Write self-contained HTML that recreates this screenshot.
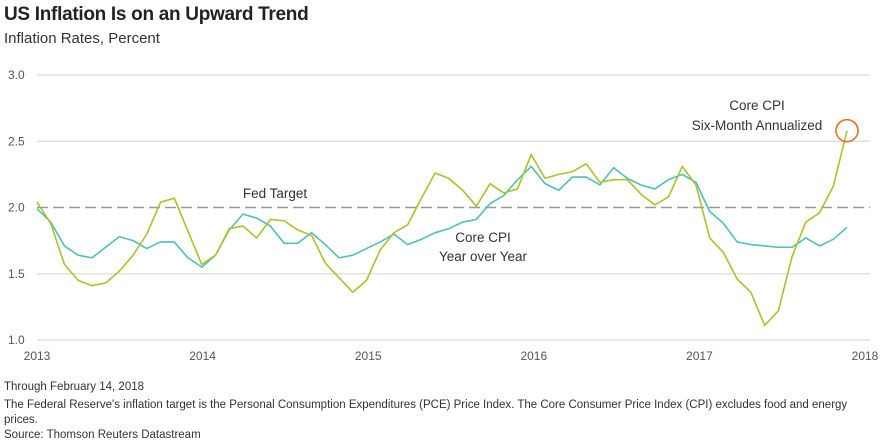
<!DOCTYPE html>
<html><head><meta charset="utf-8"><style>
body{margin:0;width:880px;height:444px;background:#fff;font-family:"Liberation Sans",sans-serif;overflow:hidden;position:relative}
.t{position:absolute;white-space:nowrap}
</style></head><body>
<div class="t" style="left:4px;top:4px;font-size:19px;font-weight:bold;color:#222;letter-spacing:-0.3px">US Inflation Is on an Upward Trend</div>
<div class="t" style="left:4px;top:30px;font-size:15px;color:#333">Inflation Rates, Percent</div>
<svg id="chart" width="880" height="444" style="position:absolute;left:0;top:0"></svg>
<div class="t" style="left:4px;top:381px;font-size:11.5px;color:#333">Through February 14, 2018</div>
<div class="t" style="left:4px;top:398px;font-size:11.5px;color:#333;white-space:normal;width:860px;line-height:15px">The Federal Reserve's inflation target is the Personal Consumption Expenditures (PCE) Price Index. The Core Consumer Price Index (CPI) excludes food and energy prices.</div>
<div class="t" style="left:4px;top:429px;font-size:11.5px;color:#333">Source: Thomson Reuters Datastream</div>
<script>
const yTicks=[1.0,1.5,2.0,2.5,3.0];
const xTickLabels=["2013","2014","2015","2016","2017","2018"];
const fedTarget=2.0;
const coreYoY=[1.99,1.89,1.71,1.64,1.62,1.70,1.78,1.75,1.69,1.74,1.74,1.62,1.55,1.64,1.83,1.95,1.92,1.86,1.73,1.73,1.81,1.72,1.62,1.64,1.69,
1.74,1.80,1.72,1.76,1.81,1.84,1.89,1.91,2.03,2.09,2.21,2.31,2.18,2.13,2.23,2.23,2.17,2.30,2.22,2.17,2.14,2.21,2.25,2.19,
1.97,1.88,1.74,1.72,1.71,1.70,1.70,1.77,1.71,1.76,1.85];
const sixMonth=[2.04,1.88,1.57,1.45,1.41,1.43,1.52,1.64,1.80,2.04,2.07,1.82,1.57,1.64,1.84,1.86,1.77,1.91,1.90,1.83,1.79,1.58,1.47,1.36,1.45,
1.68,1.81,1.87,2.07,2.26,2.22,2.13,2.01,2.18,2.11,2.14,2.40,2.22,2.25,2.27,2.33,2.19,2.21,2.21,2.10,2.02,2.08,2.31,2.17,
1.77,1.66,1.46,1.36,1.11,1.22,1.63,1.89,1.96,2.16,2.58];
const NS="http://www.w3.org/2000/svg";
const svg=document.getElementById('chart');
const x0=37,x1=865;
const xMonth=i=>x0+i*(847-x0)/59;
const xYear=k=>x0+k*(x1-x0)/5;
const y=v=>75+(3-v)*132.5;
function mk(tag,attrs){const e=document.createElementNS(NS,tag);for(const k in attrs)e.setAttribute(k,attrs[k]);svg.appendChild(e);return e;}
yTicks.forEach(v=>{
  if(v!==fedTarget){const l=mk('line',{x1:37,x2:870,y1:y(v),y2:y(v),stroke:'#dcdcdc','stroke-width':1.3});
  
  }
  const t=mk('text',{x:8,y:y(v)+4,'font-size':12,fill:'#555','font-family':'Liberation Sans'});
  t.textContent=v.toFixed(1);
  
  
});
const fl=mk('line',{x1:37,x2:870,y1:y(fedTarget),y2:y(fedTarget),stroke:'#999','stroke-width':1.6,'stroke-dasharray':'11,5'});


xTickLabels.forEach((s,k)=>{
  const t=mk('text',{x:xYear(k),y:360,'font-size':12,fill:'#555','text-anchor':'middle','font-family':'Liberation Sans'});
  t.textContent=s;
  
  
});
function series(arr,color,name){
  const p=mk('polyline',{points:arr.map((v,i)=>xMonth(i)+','+y(v)).join(' '),fill:'none',stroke:color,'stroke-width':1.6,'stroke-linejoin':'round'});
  
  
}
series(coreYoY,'#4fc1b5','core-cpi-yoy-line');
series(sixMonth,'#a8c42a','core-cpi-six-month-line');
const last=sixMonth.length-1;
const c=mk('circle',{cx:xMonth(last),cy:y(sixMonth[last]),r:11,fill:'none',stroke:'#e8702a','stroke-width':1.6});


function label(txt,xx,yy,name){const t=mk('text',{x:xx,y:yy,'font-size':13.5,fill:'#333','text-anchor':'middle','font-family':'Liberation Sans'});t.textContent=txt;

}
label('Fed Target',275,198,'fed-target-label');
label('Core CPI',483,242,'core-yoy-label');
label('Year over Year',483,261,'core-yoy-label-2');
label('Core CPI',757,110,'six-month-label');
label('Six-Month Annualized',757,130,'six-month-label-2');
</script>
</body></html>
